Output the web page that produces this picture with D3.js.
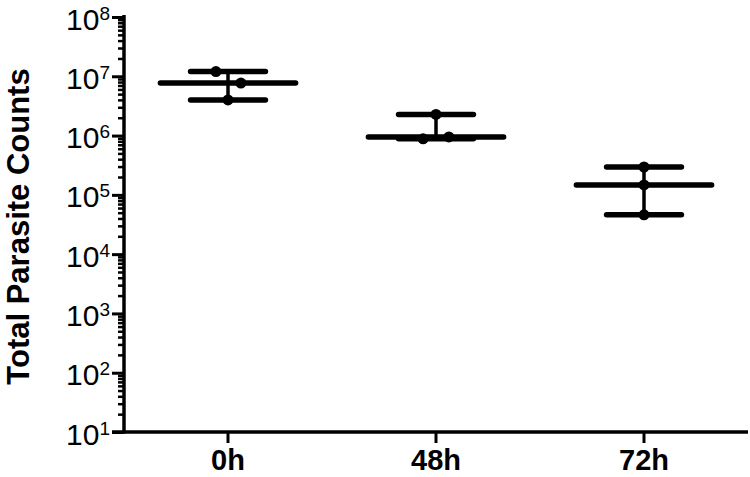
<!DOCTYPE html>
<html lang="en">
<head>
<meta charset="UTF-8">
<style>
    body {margin: 0; background: #ffffff;}
    svg {display: block;}
</style>
</head>
<body>
<div id="chart"></div>
<script src="https://d3js.org/d3.v7.min.js"></script>
<script>

// groups and the three read counts per group
var groups = ["0h", "48h", "72h"];
var counts0h = [1.2e7, 7.7e6, 4.0e6];
var counts48h = [2.27e6, 8.8e5, 9.5e5];
var counts72h = [2.95e5, 1.47e5, 4.6e4];
// horizontal scatter of each point, as a fraction of the band
var jitter0h = [-0.058, 0.062, 0];
var jitter48h = [0, -0.062, 0.062];
var jitter72h = [0, 0, 0];
var decades = [1, 2, 3, 4, 5, 6, 7, 8];

var counts = [counts0h, counts48h, counts72h];
var jitters = [jitter0h, jitter48h, jitter72h];

var width = 750, height = 477;
var svg = d3.select("#chart").append("svg")
    .attr("width", width)
    .attr("height", height);

var plotLeft = 124, plotRight = 748, plotTop = 17, plotBottom = 432;

var x = d3.scaleBand().domain(groups).range([plotLeft, plotRight]).padding(0);
var y = d3.scaleLog().domain([10, 1e8]).range([plotBottom, plotTop]);

// minor ticks on the log axis
var minor = [];
decades.slice(0, -1).forEach(function (d) {
    for (var k = 2; k <= 9; k++) minor.push(k * Math.pow(10, d));
});

var yMinor = svg.append("g")
    .attr("transform", "translate(" + plotLeft + ",0)")
    .call(d3.axisLeft(y).tickValues(minor).tickSize(6).tickFormat(""));
yMinor.select(".domain").remove();
yMinor.selectAll("line").attr("stroke", "#000").attr("stroke-width", 2.5);

var yAxis = svg.append("g")
    .attr("transform", "translate(" + plotLeft + ",0)")
    .call(d3.axisLeft(y)
        .tickValues(decades.map(function (d) { return Math.pow(10, d); }))
        .tickSize(12).tickSizeOuter(0).tickFormat(""));
yAxis.select(".domain").attr("stroke", "#000").attr("stroke-width", 3.5)
    .attr("d", "M0," + (plotTop - 2) + "V" + (plotBottom + 1.5));
yAxis.selectAll("line").attr("stroke", "#000").attr("stroke-width", 3);

// tick labels 10^n
var lab = yAxis.selectAll(".tick").append("text")
    .attr("x", -14)
    .attr("y", 12)
    .attr("dy", 0)
    .attr("fill", "#000")
    .style("font-family", "'Liberation Sans', Arial, sans-serif")
    .style("font-size", "30px")
    .attr("text-anchor", "end");
lab.append("tspan").text("10");
lab.append("tspan")
    .attr("dy", -10)
    .style("font-size", "19px")
    .text(function (d) { return Math.round(Math.log10(d)); });

// x axis
var xAxis = svg.append("g")
    .attr("transform", "translate(0," + plotBottom + ")")
    .call(d3.axisBottom(x).tickSize(11).tickSizeOuter(0));
xAxis.select(".domain").attr("stroke", "#000").attr("stroke-width", 3.5)
    .attr("d", "M" + (plotLeft - 12) + ",0H" + plotRight);
xAxis.selectAll("line").attr("stroke", "#000").attr("stroke-width", 3);
xAxis.selectAll("text")
    .attr("y", 38)
    .attr("dy", 0)
    .attr("fill", "#000")
    .style("font-family", "'Liberation Sans', Arial, sans-serif")
    .style("font-size", "29px")
    .style("font-weight", "bold");

// y axis title
svg.append("text")
    .attr("transform", "translate(29," + ((plotTop + plotBottom) / 2 + 2) + ") rotate(-90)")
    .attr("text-anchor", "middle")
    .style("font-family", "'Liberation Sans', Arial, sans-serif")
    .style("font-size", "31px")
    .style("font-weight", "bold")
    .text("Total Parasite Counts");

// median with range per group
var bw = x.bandwidth();
groups.forEach(function (g, i) {
    var vals = counts[i];
    var cx = x(g) + bw / 2;
    var med = d3.median(vals), lo = d3.min(vals), hi = d3.max(vals);
    var grp = svg.append("g")
        .attr("stroke", "#000")
        .attr("stroke-linecap", "round");

    grp.append("line")
        .attr("x1", cx).attr("x2", cx)
        .attr("y1", y(hi)).attr("y2", y(lo))
        .attr("stroke-width", 3.5);
    [hi, lo].forEach(function (v) {
        grp.append("line")
            .attr("x1", cx - bw * 0.18).attr("x2", cx + bw * 0.18)
            .attr("y1", y(v)).attr("y2", y(v))
            .attr("stroke-width", 5.5);
    });
    grp.append("line")
        .attr("x1", cx - bw * 0.325).attr("x2", cx + bw * 0.325)
        .attr("y1", y(med)).attr("y2", y(med))
        .attr("stroke-width", 5.5);

    svg.selectAll(".pt" + i)
        .data(vals)
        .enter().append("circle")
        .attr("cx", function (d, j) { return cx + jitters[i][j] * bw; })
        .attr("cy", function (d) { return y(d); })
        .attr("r", 5.5)
        .attr("fill", "#000");
});

</script>
</body>
</html>
